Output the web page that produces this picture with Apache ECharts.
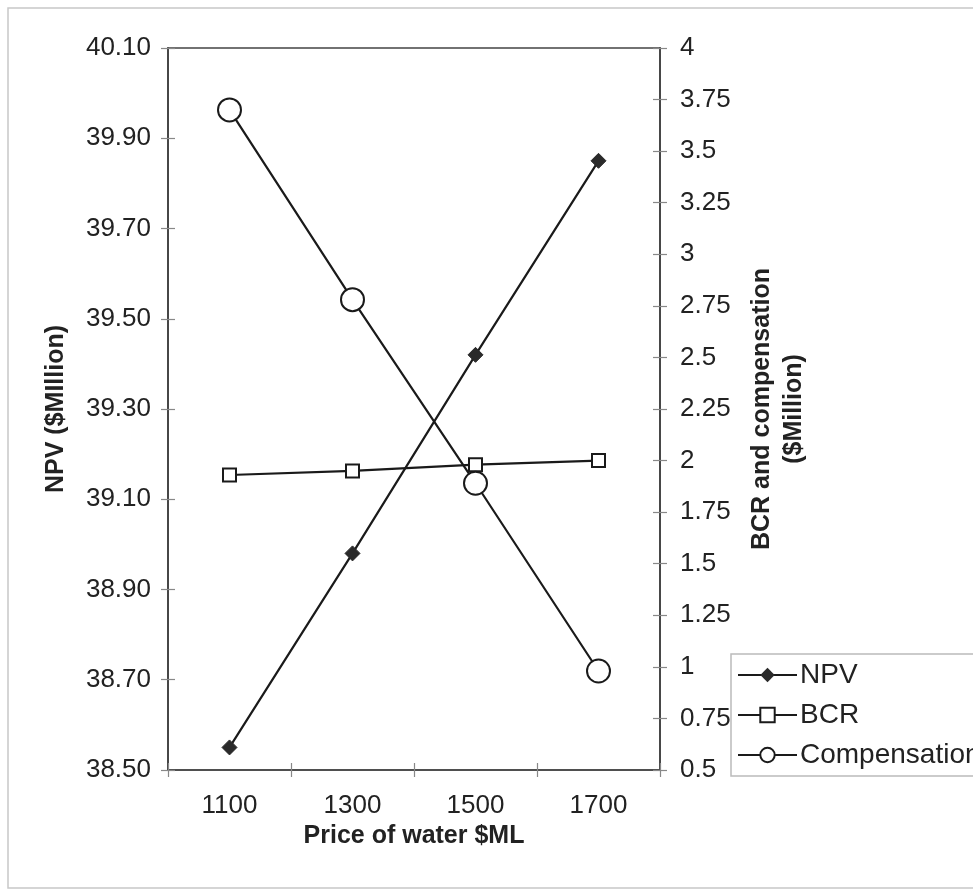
<!DOCTYPE html>
<html>
<head>
<meta charset="utf-8">
<script src="https://cdn.jsdelivr.net/npm/echarts@6/dist/echarts.min.js"></script>
<style>
html,body{margin:0;padding:0;background:#fff;}
#chart{width:973px;height:895px;}
</style>
</head>
<body>
<div id="chart"></div>
<script>
var categories = ['1100', '1300', '1500', '1700'];
var npv = [38.55, 38.98, 39.42, 39.85];
var bcr = [1.93, 1.95, 1.98, 2.00];
var compensation = [3.70, 2.78, 1.89, 0.98];
var leftTicks = {min: 38.5, max: 40.1, interval: 0.2};
var rightTicks = {min: 0.5, max: 4, interval: 0.25};

var FONT = 'Liberation Sans, Arial, sans-serif';
var TXT = '#222';
var AX = '#444';
var TICK = '#888';

var chart = echarts.init(document.getElementById('chart'));

var yBase = function (pos, t, fmt, showLabel, tickInside, name) {
  return {
    type: 'value', position: pos, min: t.min, max: t.max, interval: t.interval,
    offset: 0,
    name: name || '',
    nameLocation: 'middle',
    nameRotate: 90,
    axisLine: {show: true, onZero: false, lineStyle: {color: AX, width: 1.5}},
    axisTick: {show: true, inside: tickInside, length: 7, lineStyle: {color: TICK, width: 1.2}},
    axisLabel: {show: showLabel, formatter: fmt, fontSize: 26, color: TXT, fontFamily: FONT, margin: 17},
    splitLine: {show: false}
  };
};

var yLeft = yBase('left', leftTicks, function (v) { return v.toFixed(2); }, true, false, 'NPV ($MIllion)');
yLeft.nameGap = 99;
yLeft.nameMoveOverlap = false;
yLeft.nameTextStyle = {fontSize: 25, fontWeight: 'bold', color: TXT, fontFamily: FONT};
var yRight = yBase('right', rightTicks, function (v) { return String(+v.toFixed(2)); }, true, false, 'BCR and compensation\n($Million)');
yRight.nameGap = 86;
yRight.axisLabel.margin = 20;
yRight.nameTextStyle = {fontSize: 25, fontWeight: 'bold', color: TXT, fontFamily: FONT, lineHeight: 32, align: 'center'};
var yLeftIn = yBase('left', leftTicks, null, false, true);
var yRightIn = yBase('right', rightTicks, null, false, true);

var option = {
  animation: false,
  backgroundColor: '#fff',
  grid: {left: 168, right: 313, top: 48, bottom: 125, show: true, borderColor: AX, borderWidth: 1.5, backgroundColor: 'transparent'},
  graphic: [{
    type: 'rect', shape: {x: 8, y: 8, width: 990, height: 880},
    style: {fill: 'none', stroke: '#c8c8c8', lineWidth: 1.5}, silent: true, z: -1
  }],
  legend: {
    orient: 'vertical', left: 731, top: 654,
    padding: [7, 60, 7, 6],
    itemWidth: 59, itemHeight: 18, itemGap: 12,
    borderColor: '#bbb', borderWidth: 1.5,
    textStyle: {fontSize: 28, color: TXT, fontFamily: FONT, padding: [0, 0, 0, -2]},
    data: ['NPV', 'BCR', 'Compensation']
  },
  xAxis: [{
    type: 'category', data: categories, boundaryGap: true,
    name: 'Price of water $ML', nameLocation: 'middle', nameGap: 52,
    nameTextStyle: {fontSize: 25, fontWeight: 'bold', color: TXT, fontFamily: FONT},
    axisLine: {show: true, onZero: false, lineStyle: {color: AX, width: 1.5}},
    axisTick: {show: true, inside: false, length: 7, alignWithLabel: false, lineStyle: {color: TICK, width: 1.2}},
    axisLabel: {fontSize: 26, color: TXT, fontFamily: FONT, margin: 23},
    splitLine: {show: false}
  }, {
    type: 'category', data: categories, boundaryGap: true, position: 'bottom',
    axisLine: {show: false},
    axisTick: {show: true, inside: true, length: 7, lineStyle: {color: TICK, width: 1.2}},
    axisLabel: {show: false}, splitLine: {show: false}
  }],
  yAxis: [yLeft, yRight, yLeftIn, yRightIn],
  series: [{
    name: 'NPV', type: 'line', yAxisIndex: 0, data: npv,
    symbol: 'diamond', symbolSize: 15,
    lineStyle: {color: '#1a1a1a', width: 2.2},
    itemStyle: {color: '#2a2a2a', borderColor: '#2a2a2a'}
  }, {
    name: 'BCR', type: 'line', yAxisIndex: 1, data: bcr,
    symbol: 'rect', symbolSize: 13,
    lineStyle: {color: '#1a1a1a', width: 2.2},
    itemStyle: {color: '#fff', borderColor: '#1a1a1a', borderWidth: 2}
  }, {
    name: 'Compensation', type: 'line', yAxisIndex: 1, data: compensation,
    symbol: 'circle', symbolSize: 23,
    lineStyle: {color: '#1a1a1a', width: 2.2},
    itemStyle: {color: '#fff', borderColor: '#1a1a1a', borderWidth: 2}
  }]
};
chart.setOption(option);
</script>
</body>
</html>
